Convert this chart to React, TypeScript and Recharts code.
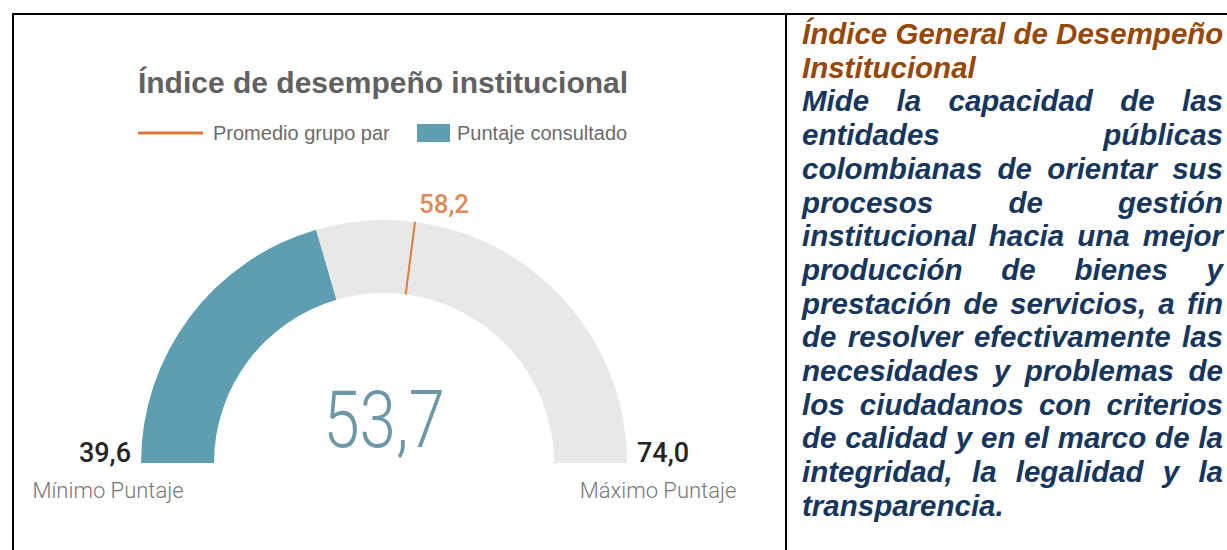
import React from 'react'
import { Cell, Pie, PieChart } from 'recharts'

// gauge range and values (Power BI style gauge)
const gaugeBounds = [39.6, 74.0]
const scoreValue = [53.7]
const peerAverage = [58.2]
const seriesNames = ['Promedio grupo par', 'Puntaje consultado']
const boundLabels = ['Mínimo Puntaje', 'Máximo Puntaje']

const titleLines = ['Índice General de Desempeño', 'Institucional']
const bodyLines = [
  'Mide la capacidad de las',
  'entidades públicas',
  'colombianas de orientar sus',
  'procesos de gestión',
  'institucional hacia una mejor',
  'producción de bienes y',
  'prestación de servicios, a fin',
  'de resolver efectivamente las',
  'necesidades y problemas de',
  'los ciudadanos con criterios',
  'de calidad y en el marco de la',
  'integridad, la legalidad y la',
  'transparencia.',
]

const fmt = (v: number) => v.toFixed(1).replace('.', ',')

const gaugeData = [
  { name: 'Puntaje consultado', value: scoreValue[0] - gaugeBounds[0] },
  { name: 'Resto', value: gaugeBounds[1] - scoreValue[0] },
]
const markerData = [
  { name: 'Promedio', value: peerAverage[0] - gaugeBounds[0] },
  { name: 'Resto', value: gaugeBounds[1] - peerAverage[0] },
]

const RAD = Math.PI / 180
const polar = (cx: number, cy: number, r: number, a: number) => ({
  x: cx + Math.cos(-a * RAD) * r,
  y: cy + Math.sin(-a * RAD) * r,
})

const renderMarker = (props: any) => {
  if (props.index !== 0) return <g />
  const { cx, cy, innerRadius, outerRadius, endAngle } = props
  const p1 = polar(cx, cy, innerRadius, endAngle)
  const p2 = polar(cx, cy, outerRadius, endAngle)
  return (
    <g>
      <line x1={p1.x} y1={p1.y} x2={p2.x} y2={p2.y} stroke="#e07b39" strokeWidth={2} />
      <text
        x={p2.x + 4}
        y={p2.y - 9}
        textAnchor="start"
        fontFamily="Roboto, sans-serif"
        fontWeight={500}
        fontSize={26}
        fill="#dc8a58"
      >
        {fmt(peerAverage[0])}
      </text>
    </g>
  )
}

export default function App() {
  return (
    <div style={{ position: 'absolute', left: 0, top: 0, width: 1227, height: 550, overflow: 'hidden', background: '#fff' }}>
      <div style={{ position: 'absolute', left: 0, top: 0 }}>
        <PieChart width={770} height={540} margin={{ top: 0, right: 0, bottom: 0, left: 0 }}>
          <Pie
            data={gaugeData}
            dataKey="value"
            cx={384}
            cy={463}
            startAngle={180}
            endAngle={0}
            innerRadius={170}
            outerRadius={243}
            stroke="none"
            isAnimationActive={false}
          >
            <Cell fill="#5f9db1" />
            <Cell fill="#e8e8e8" />
          </Pie>
          <Pie
            data={markerData}
            dataKey="value"
            cx={384}
            cy={463}
            startAngle={180}
            endAngle={0}
            innerRadius={170}
            outerRadius={243}
            stroke="none"
            label={renderMarker}
            labelLine={false}
            isAnimationActive={false}
          >
            <Cell fill="none" />
            <Cell fill="none" />
          </Pie>
        </PieChart>
      </div>

      <svg width={1227} height={550} style={{ position: 'absolute', left: 0, top: 0, pointerEvents: 'none' }}>
        <text x={383} y={93} textAnchor="middle" fontFamily="'Liberation Sans', Arial, sans-serif" fontWeight={700} fontSize={30} fill="#616161">
          Índice de desempeño institucional
        </text>
        <line x1={138} x2={203} y1={133} y2={133} stroke="#d9773c" strokeWidth={3} />
        <text x={213} y={140} fontFamily="'Liberation Sans', Arial, sans-serif" fontSize={20} fill="#6b6b6b">
          {seriesNames[0]}
        </text>
        <rect x={417} y={124} width={33} height={18} fill="#5f9db1" />
        <text x={457} y={140} fontFamily="'Liberation Sans', Arial, sans-serif" fontSize={20} fill="#6b6b6b">
          {seriesNames[1]}
        </text>

        <text
          transform="translate(384 447) scale(0.82 1)"
          textAnchor="middle"
          fontFamily="Roboto, sans-serif"
          fontWeight={300}
          fontSize={80}
          fill="#6b97a6"
        >
          {fmt(scoreValue[0])}
        </text>

        <text x={131} y={462} textAnchor="end" fontFamily="Roboto, sans-serif" fontWeight={500} fontSize={27} fill="#252423">
          {fmt(gaugeBounds[0])}
        </text>
        <text x={637} y={462} textAnchor="start" fontFamily="Roboto, sans-serif" fontWeight={500} fontSize={27} fill="#252423">
          {fmt(gaugeBounds[1])}
        </text>
        <text x={108} y={498} textAnchor="middle" fontFamily="Roboto, sans-serif" fontWeight={300} fontSize={22} fill="#777">
          {boundLabels[0]}
        </text>
        <text x={658} y={498} textAnchor="middle" fontFamily="Roboto, sans-serif" fontWeight={300} fontSize={22} fill="#777">
          {boundLabels[1]}
        </text>
      </svg>

      {/* table borders */}
      <div style={{ position: 'absolute', left: 12, top: 13, width: 1300, height: 2, background: '#000' }} />
      <div style={{ position: 'absolute', left: 12, top: 13, width: 2, height: 600, background: '#000' }} />
      <div style={{ position: 'absolute', left: 785, top: 13, width: 2, height: 600, background: '#000' }} />

      <div
        style={{
          position: 'absolute',
          left: 802,
          top: 17,
          width: 421,
          fontFamily: "'Liberation Sans', Arial, sans-serif",
          fontSize: 29.5,
          fontWeight: 700,
          fontStyle: 'italic',
          lineHeight: '33.7px',
          whiteSpace: 'nowrap',
        }}
      >
        {titleLines.map((t, i) => (
          <div key={'t' + i} style={{ color: '#974706' }}>{t}</div>
        ))}
        {bodyLines.map((t, i) => (
          <div
            key={'b' + i}
            style={{
              color: '#17365d',
              whiteSpace: 'normal',
              textAlign: 'justify',
              textAlignLast: i === bodyLines.length - 1 ? 'left' : 'justify',
            }}
          >
            {t}
          </div>
        ))}
      </div>
    </div>
  )
}
